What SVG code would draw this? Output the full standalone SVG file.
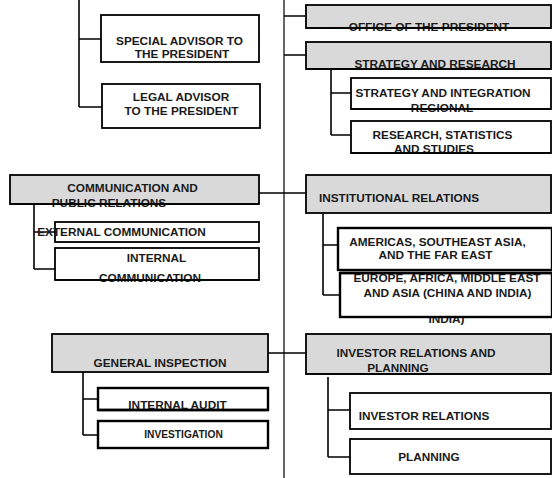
<svg xmlns="http://www.w3.org/2000/svg" width="552" height="478" viewBox="0 0 552 478">
<style>
.b{fill:#fff;stroke:#000;stroke-width:1.8}
.g{fill:#d9d9d9;stroke:#000;stroke-width:1.8}
.t{stroke:#000;stroke-width:2.4;fill:#fff}
.c{fill:none;stroke:#000;stroke-width:1.6}
.m{fill:none;stroke:#000;stroke-width:1.2}
text{font-family:"Liberation Sans",Arial,sans-serif;font-weight:bold;font-size:11.8px;fill:#1a1a1a;text-anchor:middle}
.s{font-size:10.2px}
</style>
<rect width="552" height="478" fill="#fff"/>
<g id="connectors">
<path class="m" d="M284 0V478"/>
<path class="c" d="M79 0V107M79 39H101M79 107H102"/>
<path class="c" d="M284 16H306M284 55H306M331 69V135M331 93H351M331 135H351"/>
<path class="c" d="M259 193H284M34 204V269M34 232H55M34 269H55"/>
<path class="c" d="M284 193H306M323 213V295M323 245H338M323 295H340"/>
<path class="c" d="M268 353H284M83 372V435M83 399H98M83 435H98"/>
<path class="c" d="M284 353H306M328 377V457M328 410H350M328 457H350"/>
</g>
<g id="special-advisor"><rect class="b" x="101" y="15" width="158" height="47"/>
<text x="179.5" y="45">SPECIAL ADVISOR TO</text><text x="182" y="58">THE PRESIDENT</text></g>
<g id="legal-advisor"><rect class="b" x="102" y="84" width="158" height="44"/>
<text x="181" y="101">LEGAL ADVISOR</text><text x="181.5" y="115">TO THE PRESIDENT</text></g>
<g id="office-president"><rect class="g" x="306" y="5" width="245" height="23"/>
<text x="429" y="31">OFFICE OF THE PRESIDENT</text><path class="c" d="M306 28H551"/></g>
<g id="strategy-research"><rect class="g" x="306" y="42" width="245" height="27"/>
<text x="435" y="68">STRATEGY AND RESEARCH</text><path class="c" d="M306 69H551"/></g>
<g id="strategy-integration"><rect class="b" x="351" y="78" width="200" height="31"/>
<text x="443" y="97">STRATEGY AND INTEGRATION</text><text x="442" y="112">REGIONAL</text><path class="c" d="M351 109H551"/></g>
<g id="research"><rect class="b" x="351" y="121" width="200" height="32"/>
<text x="442.5" y="139">RESEARCH, STATISTICS</text><text x="434" y="153">AND STUDIES</text><path class="c" d="M351 153H551"/></g>
<g id="communication"><rect class="g" x="10" y="175" width="249" height="29"/>
<text x="132.5" y="192">COMMUNICATION AND</text><text x="109" y="207">PUBLIC RELATIONS</text><path class="c" d="M10 204H259"/></g>
<g id="external-communication"><rect class="b" x="55" y="222" width="204" height="20"/>
<text x="121.5" y="236">EXTERNAL COMMUNICATION</text></g>
<g id="internal-communication"><rect class="b" x="55" y="248" width="204" height="32"/>
<text x="156.5" y="262">INTERNAL</text><text x="150" y="282">COMMUNICATION</text><path class="c" d="M55 280H259"/></g>
<g id="institutional-relations"><rect class="g" x="306" y="175" width="245" height="38"/>
<text x="399" y="202">INSTITUTIONAL RELATIONS</text></g>
<g id="americas"><rect class="t" x="338" y="228" width="214" height="42"/>
<text x="437.5" y="246">AMERICAS, SOUTHEAST ASIA,</text><text x="435.5" y="259">AND THE FAR EAST</text></g>
<g id="europe"><text x="446.5" y="322.5">INDIA)</text><rect class="t" x="340" y="273" width="212" height="44"/>
<text x="447" y="281.5">EUROPE, AFRICA, MIDDLE EAST</text><text x="447.5" y="297">AND ASIA (CHINA AND INDIA)</text><path class="t" d="M340 273H552"/></g>
<g id="general-inspection"><rect class="g" x="52" y="334" width="216" height="38"/>
<text x="160" y="367">GENERAL INSPECTION</text></g>
<g id="internal-audit"><rect class="t" x="98" y="388" width="170" height="22"/>
<text x="177.5" y="409">INTERNAL AUDIT</text><path class="t" d="M98 410H268"/></g>
<g id="investigation"><rect class="t" x="98" y="421" width="170" height="27"/>
<text class="s" x="183.5" y="438">INVESTIGATION</text></g>
<g id="investor-planning"><rect class="g" x="306" y="334" width="245" height="40"/>
<text x="416" y="357">INVESTOR RELATIONS AND</text><text x="398" y="372">PLANNING</text><path class="c" d="M306 374H551"/></g>
<g id="investor-relations"><rect class="b" x="350" y="393" width="201" height="36"/>
<text x="424" y="420">INVESTOR RELATIONS</text></g>
<g id="planning"><rect class="b" x="350" y="439" width="201" height="35"/>
<text x="429" y="461">PLANNING</text></g>
</svg>
